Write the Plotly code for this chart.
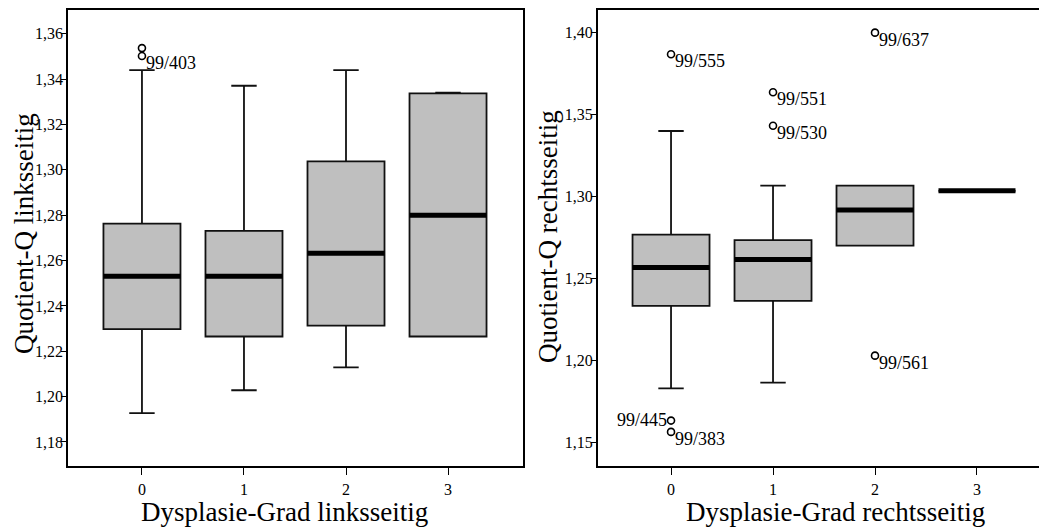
import plotly.graph_objects as go

# ---------------- data ----------------
groups = [0, 1, 2, 3]
group_labels = ["0", "1", "2", "3"]

# left panel: Quotient-Q linksseitig by Dysplasie-Grad linksseitig
left_q1 = [1.2298, 1.2265, 1.2313, 1.2265]
left_median = [1.2531, 1.2531, 1.2632, 1.2800]
left_q3 = [1.2763, 1.2731, 1.3037, 1.3337]
left_lower = [1.1927, 1.2028, 1.2129, 1.2265]
left_upper = [1.3440, 1.3371, 1.3440, 1.3341]
left_out_x = [0, 0]
left_out_y = [1.3537, 1.3502]
left_out_labels = ["", "99/403"]

# right panel: Quotient-Q rechtsseitig by Dysplasie-Grad rechtsseitig
right_q1 = [1.2331, 1.2362, 1.2699, 1.3033]
right_median = [1.2565, 1.2615, 1.2916, 1.3033]
right_q3 = [1.2766, 1.2732, 1.3065, 1.3033]
right_lower = [1.1829, 1.1863, 1.2699, 1.3033]
right_upper = [1.3398, 1.3065, 1.3065, 1.3033]
right_out_x = [0, 0, 0, 1, 1, 2, 2]
right_out_y = [1.3866, 1.1632, 1.1563, 1.3634, 1.3430, 1.3998, 1.2028]
right_out_labels = ["99/555", "99/445", "99/383", "99/551", "99/530", "99/637", "99/561"]

left_yticks = [1.18, 1.20, 1.22, 1.24, 1.26, 1.28, 1.30, 1.32, 1.34, 1.36]
left_yticklabels = ["1,18", "1,20", "1,22", "1,24", "1,26", "1,28", "1,30", "1,32", "1,34", "1,36"]
right_yticks = [1.15, 1.20, 1.25, 1.30, 1.35, 1.40]
right_yticklabels = ["1,15", "1,20", "1,25", "1,30", "1,35", "1,40"]

left_xtitle = "Dysplasie-Grad linksseitig"
left_ytitle = "Quotient-Q linksseitig"
right_xtitle = "Dysplasie-Grad rechtsseitig"
right_ytitle = "Quotient-Q rechtsseitig"

# ---------------- styling ----------------
FONT = "Liberation Serif, Times New Roman, serif"
BOX_W = 0.755
FILL = "#bfbfbf"
W, H = 1039, 529

fig = go.Figure()


def add_panel(xa, ya, q1, med, q3, lo, up, ox, oy, olab, left_labels=()):
    fig.add_trace(go.Box(
        x=groups, q1=q1, median=med, q3=q3, lowerfence=lo, upperfence=up,
        width=BOX_W, whiskerwidth=0.33, fillcolor=FILL,
        line=dict(color="#111111", width=1.8), boxpoints=False,
        xaxis=xa, yaxis=ya, hoverinfo="skip"))
    fig.add_trace(go.Box(
        x=groups, q1=med, median=med, q3=med, lowerfence=med, upperfence=med,
        width=BOX_W, whiskerwidth=0, fillcolor="rgba(0,0,0,0)",
        line=dict(color="black", width=5), boxpoints=False,
        xaxis=xa, yaxis=ya, hoverinfo="skip"))
    fig.add_trace(go.Scatter(
        x=ox, y=oy, mode="markers", xaxis=xa, yaxis=ya,
        marker=dict(symbol="circle-open", size=7, color="black",
                    line=dict(width=1.6, color="black")),
        hoverinfo="skip"))
    for gx, gy, lab in zip(ox, oy, olab):
        if not lab:
            continue
        if lab in left_labels:
            fig.add_annotation(x=gx, y=gy, xref=xa, yref=ya, text=lab,
                               showarrow=False, xanchor="right", yanchor="middle",
                               xshift=-2, yshift=1,
                               font=dict(family=FONT, size=18, color="black"))
        else:
            fig.add_annotation(x=gx, y=gy, xref=xa, yref=ya, text=lab,
                               showarrow=False, xanchor="left", yanchor="middle",
                               xshift=2, yshift=-7,
                               font=dict(family=FONT, size=18, color="black"))


add_panel("x", "y", left_q1, left_median, left_q3, left_lower, left_upper,
          left_out_x, left_out_y, left_out_labels)
add_panel("x2", "y2", right_q1, right_median, right_q3, right_lower, right_upper,
          right_out_x, right_out_y, right_out_labels, left_labels=("99/445",))

ydom = [(H - 466) / H, (H - 10) / H]
axis_common = dict(showgrid=False, zeroline=False, linecolor="black", linewidth=1.5,
                   ticks="outside", tickcolor="black", tickwidth=1.3,
                   tickfont=dict(family=FONT, size=16, color="black"))

fig.update_layout(
    width=W, height=H, margin=dict(l=0, r=0, t=0, b=0),
    paper_bgcolor="white", plot_bgcolor="white", showlegend=False,
    boxmode="overlay",
    xaxis=dict(domain=[68 / W, 522.7 / W], range=[-0.725, 3.732], anchor="y",
               tickvals=groups, ticktext=group_labels, ticklen=7,
               showline=True, mirror=True, ticklabelstandoff=1, **axis_common),
    yaxis=dict(domain=ydom, range=[1.1694, 1.3705], anchor="x",
               tickvals=left_yticks, ticktext=left_yticklabels, ticklen=5,
               showline=True, mirror=True, ticklabelstandoff=-5, **axis_common),
    xaxis2=dict(domain=[597.7 / W, 1.0], range=[-0.719, 3.608], anchor="y2",
                tickvals=groups, ticktext=group_labels, ticklen=7,
                showline=True, mirror=True, ticklabelstandoff=1, **axis_common),
    yaxis2=dict(domain=ydom, range=[1.1355, 1.4136], anchor="x2",
                tickvals=right_yticks, ticktext=right_yticklabels, ticklen=5,
                showline=True, mirror=False, ticklabelstandoff=-5, **axis_common),
)

title_font = dict(family=FONT, size=27, color="black")
fig.add_annotation(x=284 / W, y=(H - 512) / H, xref="paper", yref="paper",
                   text=left_xtitle, showarrow=False, font=title_font,
                   xanchor="center", yanchor="middle")
fig.add_annotation(x=835 / W, y=(H - 512) / H, xref="paper", yref="paper",
                   text=right_xtitle, showarrow=False, font=title_font,
                   xanchor="center", yanchor="middle")
fig.add_annotation(x=24 / W, y=(H - 234) / H, xref="paper", yref="paper",
                   text=left_ytitle, showarrow=False, font=title_font, textangle=-90,
                   xanchor="center", yanchor="middle")
fig.add_annotation(x=548 / W, y=(H - 237) / H, xref="paper", yref="paper",
                   text=right_ytitle, showarrow=False, font=title_font, textangle=-90,
                   xanchor="center", yanchor="middle")

fig.write_html("out.html", config={"displayModeBar": False},
               post_script="document.body.style.margin='0px';document.body.style.overflow='hidden';")
